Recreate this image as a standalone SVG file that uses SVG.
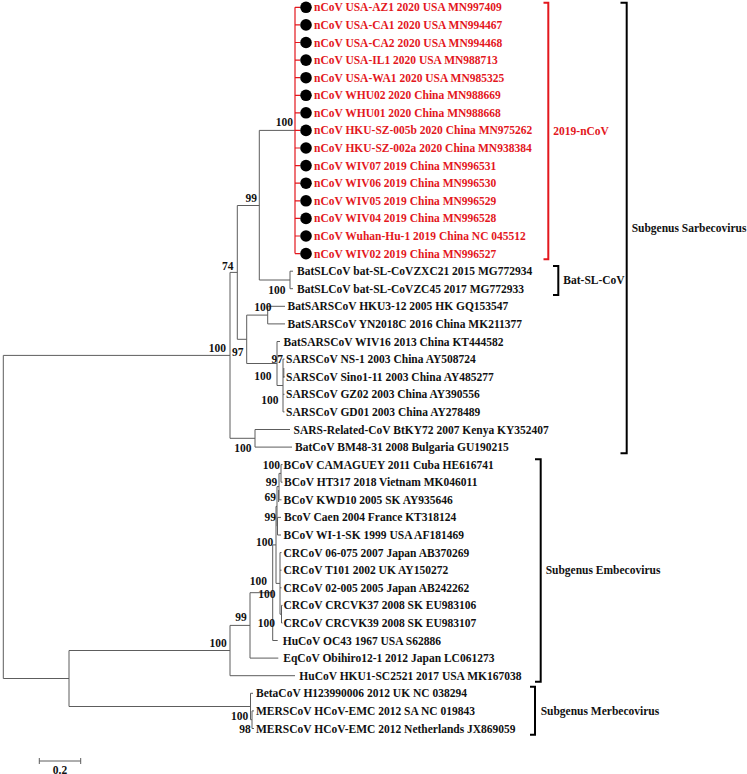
<svg xmlns="http://www.w3.org/2000/svg" width="747" height="774" viewBox="0 0 747 774">
<style>
text{font-family:"Liberation Serif","Times New Roman",serif;font-weight:bold;font-size:11.5px;fill:#111}
.red text,text.red{fill:#e3171d}
.bs{text-anchor:end}
.br{fill:none;stroke:#5d5d5d;stroke-width:1}
.rl{fill:none;stroke:#e3171d;stroke-width:1.2}
.bk{fill:none;stroke:#000;stroke-width:2}
.bkr{fill:none;stroke:#e3171d;stroke-width:2}
</style>
<rect width="747" height="774" fill="#fff"/>
<g id="connectors">
<path class="br" d="M3.3,355.4V678.5M3.3,355.4H230M3.3,678.5H69
M230,272.4V438.3M230,272.4H237.3M230,438.3H255
M237.3,205.5V339.3M237.3,205.5H259.3M237.3,339.3H246.7
M259.3,130.4V280M259.3,130.4H295M259.3,280H290
M290,271.2V288.7M290,271.2H293M290,288.7H293
M246.7,315.1V363.5M246.7,315.1H267.7M246.7,363.5H277
M267.7,306.3V323.9M267.7,306.3H285M267.7,323.9H285
M277,341.5V385.5M277,341.5H280M277,385.5H283
M283,359.1V411.9M283,359.1H284.5M283,376.7H284.5M283,394.3H284.5M283,411.9H284.5
M255,429.5V447.1M255,429.5H290M255,447.1H292
M69,650.5V706.5M69,650.5H230M69,706.5H250.5
M230,625.4V675.7M230,625.4H250M230,675.7H295
M250,592.7V658.1M250,592.7H272.7M250,658.1H278.3
M272.7,544.9V640.5M272.7,544.9H276M272.7,640.5H277.7
M276,506.4V583.4M276,506.4H277M276,583.4H280
M277,486.6V526.2M277,486.6H279M277,526.2H277.5
M279,473.4V499.8M279,473.4H281M279,499.8H281.5
M281,464.6V482.2M281,464.6H282.5M281,482.2H282.5
M277.5,517.4V535M277.5,517.4H281M277.5,535H281
M280,552.6V614.2M280,552.6H281.5M280,570.2H281.5M280,587.8H281.5M280,614.2H281.5
M281.5,605.4V623M281.5,605.4H282.5M281.5,623H282.5
M250.5,693.3V719.7M250.5,693.3H253M250.5,719.7H252
M252,710.9V728.5M252,710.9H254M252,728.5H254"/>
<path class="br" stroke-width="1.8" d="M283.8,368V378M278.6,490V502"/>
<path class="rl" d="M295,7.3V253.6M295,7.3H300M295,24.9H300M295,42.5H300M295,60.1H300M295,77.7H300M295,95.3H300M295,112.8H300M295,130.4H300M295,148H300M295,165.6H300M295,183.2H300M295,200.8H300M295,218.4H300M295,236H300M295,253.6H300"/>
<path class="br" d="M39.3,761H80.7M39.3,758V764M80.7,758V764"/>
</g>
<g id="ncov-leaves" class="red">
<g id="leaf1"><circle cx="306" cy="7.3" r="5.8" fill="#000"/><text x="314" y="11.3">nCoV USA-AZ1 2020 USA MN997409</text></g>
<g id="leaf2"><circle cx="306" cy="24.9" r="5.8" fill="#000"/><text x="314" y="28.9">nCoV USA-CA1 2020 USA MN994467</text></g>
<g id="leaf3"><circle cx="306" cy="42.5" r="5.8" fill="#000"/><text x="314" y="46.5">nCoV USA-CA2 2020 USA MN994468</text></g>
<g id="leaf4"><circle cx="306" cy="60.1" r="5.8" fill="#000"/><text x="314" y="64.1">nCoV USA-IL1 2020 USA MN988713</text></g>
<g id="leaf5"><circle cx="306" cy="77.7" r="5.8" fill="#000"/><text x="314" y="81.7">nCoV USA-WA1 2020 USA MN985325</text></g>
<g id="leaf6"><circle cx="306" cy="95.3" r="5.8" fill="#000"/><text x="314" y="99.3">nCoV WHU02 2020 China MN988669</text></g>
<g id="leaf7"><circle cx="306" cy="112.8" r="5.8" fill="#000"/><text x="314" y="116.8">nCoV WHU01 2020 China MN988668</text></g>
<g id="leaf8"><circle cx="306" cy="130.4" r="5.8" fill="#000"/><text x="314" y="134.4">nCoV HKU-SZ-005b 2020 China MN975262</text></g>
<g id="leaf9"><circle cx="306" cy="148" r="5.8" fill="#000"/><text x="314" y="152">nCoV HKU-SZ-002a 2020 China MN938384</text></g>
<g id="leaf10"><circle cx="306" cy="165.6" r="5.8" fill="#000"/><text x="314" y="169.6">nCoV WIV07 2019 China MN996531</text></g>
<g id="leaf11"><circle cx="306" cy="183.2" r="5.8" fill="#000"/><text x="314" y="187.2">nCoV WIV06 2019 China MN996530</text></g>
<g id="leaf12"><circle cx="306" cy="200.8" r="5.8" fill="#000"/><text x="314" y="204.8">nCoV WIV05 2019 China MN996529</text></g>
<g id="leaf13"><circle cx="306" cy="218.4" r="5.8" fill="#000"/><text x="314" y="222.4">nCoV WIV04 2019 China MN996528</text></g>
<g id="leaf14"><circle cx="306" cy="236" r="5.8" fill="#000"/><text x="314" y="240">nCoV Wuhan-Hu-1 2019 China NC 045512</text></g>
<g id="leaf15"><circle cx="306" cy="253.6" r="5.8" fill="#000"/><text x="314" y="257.6">nCoV WIV02 2019 China MN996527</text></g>
</g>
<g id="other-leaves">
<g id="leaf16"><text x="297" y="275.2">BatSLCoV bat-SL-CoVZXC21 2015 MG772934</text></g>
<g id="leaf17"><text x="297" y="292.7">BatSLCoV bat-SL-CoVZC45 2017 MG772933</text></g>
<g id="leaf18"><text x="287.5" y="310.3">BatSARSCoV HKU3-12 2005 HK GQ153547</text></g>
<g id="leaf19"><text x="287.5" y="327.9">BatSARSCoV YN2018C 2016 China MK211377</text></g>
<g id="leaf20"><text x="283.5" y="345.5">BatSARSCoV WIV16 2013 China KT444582</text></g>
<g id="leaf21"><text x="286" y="363.1">SARSCoV NS-1 2003 China AY508724</text></g>
<g id="leaf22"><text x="286" y="380.7">SARSCoV Sino1-11 2003 China AY485277</text></g>
<g id="leaf23"><text x="286" y="398.3">SARSCoV GZ02 2003 China AY390556</text></g>
<g id="leaf24"><text x="286" y="415.9">SARSCoV GD01 2003 China AY278489</text></g>
<g id="leaf25"><text x="293.5" y="433.5">SARS-Related-CoV BtKY72 2007 Kenya KY352407</text></g>
<g id="leaf26"><text x="295" y="451.1">BatCoV BM48-31 2008 Bulgaria GU190215</text></g>
<g id="leaf27"><text x="283.5" y="468.6">BCoV CAMAGUEY 2011 Cuba HE616741</text></g>
<g id="leaf28"><text x="284" y="486.2">BCoV HT317 2018 Vietnam MK046011</text></g>
<g id="leaf29"><text x="283.5" y="503.8">BCoV KWD10 2005 SK AY935646</text></g>
<g id="leaf30"><text x="284" y="521.4">BcoV Caen 2004 France KT318124</text></g>
<g id="leaf31"><text x="283.5" y="539">BCoV WI-1-SK 1999 USA AF181469</text></g>
<g id="leaf32"><text x="283.5" y="556.6">CRCoV 06-075 2007 Japan AB370269</text></g>
<g id="leaf33"><text x="283.5" y="574.2">CRCoV T101 2002 UK AY150272</text></g>
<g id="leaf34"><text x="283.5" y="591.8">CRCoV 02-005 2005 Japan AB242262</text></g>
<g id="leaf35"><text x="283.5" y="609.4">CRCoV CRCVK37 2008 SK EU983106</text></g>
<g id="leaf36"><text x="283.5" y="627">CRCoV CRCVK39 2008 SK EU983107</text></g>
<g id="leaf37"><text x="282.7" y="644.5">HuCoV OC43 1967 USA S62886</text></g>
<g id="leaf38"><text x="283.3" y="662.1">EqCoV Obihiro12-1 2012 Japan LC061273</text></g>
<g id="leaf39"><text x="299.3" y="679.7">HuCoV HKU1-SC2521 2017 USA MK167038</text></g>
<g id="leaf40"><text x="256" y="697.3">BetaCoV H123990006 2012 UK NC 038294</text></g>
<g id="leaf41"><text x="256" y="714.9">MERSCoV HCoV-EMC 2012 SA NC 019843</text></g>
<g id="leaf42"><text x="256" y="732.5">MERSCoV HCoV-EMC 2012 Netherlands JX869059</text></g>
</g>
<g id="bootstrap" class="bs">
<text class="bs" x="293" y="126">100</text>
<text class="bs" x="257" y="202">99</text>
<text class="bs" x="233.5" y="270">74</text>
<text class="bs" x="285.5" y="293.5">100</text>
<text class="bs" x="271.5" y="311">100</text>
<text class="bs" x="243.5" y="355.5">97</text>
<text class="bs" x="226" y="352">100</text>
<text class="bs" x="283" y="363">97</text>
<text class="bs" x="271.5" y="380">100</text>
<text class="bs" x="278.5" y="404">100</text>
<text class="bs" x="251.5" y="451.5">100</text>
<text class="bs" x="280" y="469">100</text>
<text class="bs" x="277.3" y="486">99</text>
<text class="bs" x="276" y="501">69</text>
<text class="bs" x="276" y="520.5">99</text>
<text class="bs" x="273.3" y="546">100</text>
<text class="bs" x="267" y="584.5">100</text>
<text class="bs" x="275.5" y="598">100</text>
<text class="bs" x="246.7" y="621">99</text>
<text class="bs" x="275" y="626.5">100</text>
<text class="bs" x="226.7" y="647">100</text>
<text class="bs" x="248.3" y="720">100</text>
<text class="bs" x="250.7" y="733">98</text>
</g>
<g id="clade-2019-nCoV">
<path class="bkr" d="M543.5,2.7H548.3V259.3H543.5"/>
<text class="red" x="553.3" y="134.7">2019-nCoV</text>
</g>
<g id="clade-Bat-SL-CoV">
<path class="bk" d="M553,266H558.3V295H553"/>
<text x="563.3" y="284">Bat-SL-CoV</text>
</g>
<g id="clade-Sarbecovirus">
<path class="bk" d="M620.5,2.7H626.7V453.3H620.5"/>
<text x="631.7" y="231.7">Subgenus Sarbecovirus</text>
</g>
<g id="clade-Embecovirus">
<path class="bk" d="M535,459.3H540.7V681.7H535"/>
<text x="545.7" y="574">Subgenus Embecovirus</text>
</g>
<g id="clade-Merbecovirus">
<path class="bk" d="M530,686.7H535V734.7H530"/>
<text x="540.7" y="714.7">Subgenus Merbecovirus</text>
</g>
<g id="scale">
<text x="60" y="773.5" text-anchor="middle">0.2</text>
</g>
</svg>
